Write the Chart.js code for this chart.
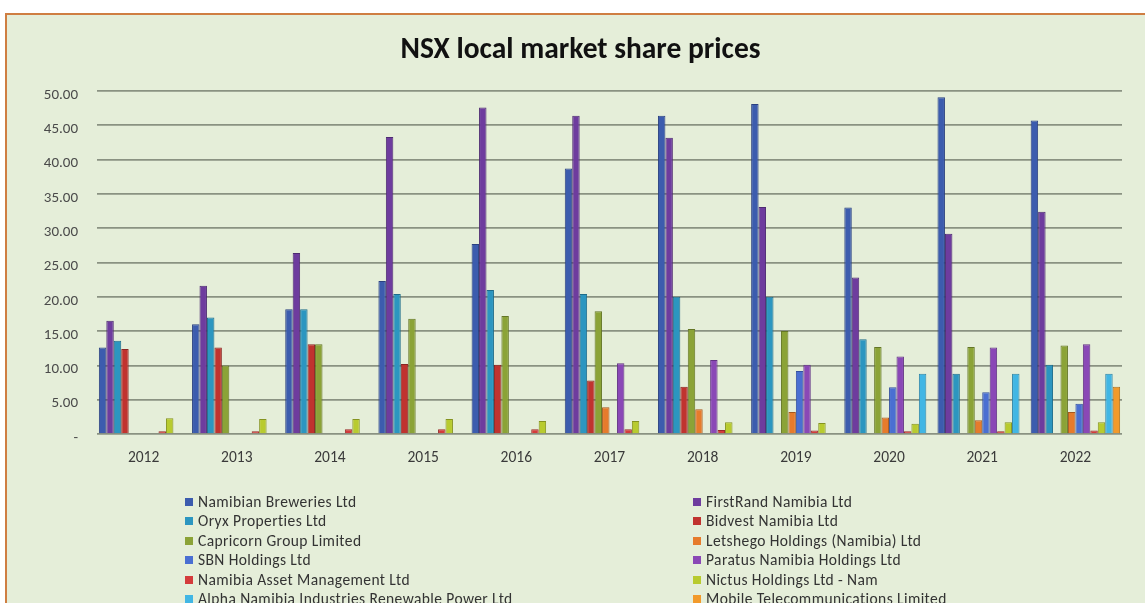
<!DOCTYPE html>
<html>
<head>
<meta charset="utf-8">
<script src="https://cdn.jsdelivr.net/npm/chart.js@4/dist/chart.umd.min.js"></script>
<style>
  html, body { margin: 0; padding: 0; background: #ffffff; width: 1145px; height: 603px; overflow: hidden; }
  #frame { position: absolute; left: 5px; top: 13px; width: 1140px; height: 592px;
           border-top: 2px solid #CF7E42; border-left: 2px solid #CF7E42; background: #E5EED9; }
  #wrap { position: absolute; left: 7px; top: 15px; width: 1138px; height: 475px; }
  #legend { position: absolute; left: 0; top: 0; width: 1145px; height: 603px; pointer-events: none;
            font-family: Carlito, Lato, sans-serif; font-size: 15.5px; letter-spacing: 0.4px; color: #333; }
  .li { position: absolute; white-space: nowrap; line-height: 16px; }
  .sw { display: inline-block; width: 8px; height: 8px; margin-right: 5px; vertical-align: 1px; }
</style>
</head>
<body>
<div id="frame"></div>
<div id="wrap"><canvas id="c"></canvas></div>
<div id="legend"></div>
<script>
const categories = ['2012','2013','2014','2015','2016','2017','2018','2019','2020','2021','2022'];
const yTickLabels = ['-','5.00','10.00','15.00','20.00','25.00','30.00','35.00','40.00','45.00','50.00'];

const namibianBreweries = [12.6, 16.0, 18.2, 22.3, 27.7, 38.7, 46.4, 48.1, 33.0, 49.1, 45.7];
const firstRand         = [16.5, 21.6, 26.4, 43.3, 47.6, 46.4, 43.2, 33.1, 22.8, 29.2, 32.4];
const oryxProperties    = [13.6, 17.0, 18.2, 20.4, 21.0, 20.4, 20.0, 20.0, 13.8, 8.8, 10.1];
const bidvest           = [12.4, 12.6, 13.1, 10.2, 10.1, 7.8, 6.9, 0, 0, 0, 0];
const capricorn         = [0, 10.0, 13.1, 16.8, 17.2, 17.9, 15.3, 15.0, 12.7, 12.7, 12.9];
const letshego          = [0, 0, 0, 0, 0, 3.9, 3.6, 3.2, 2.4, 2.0, 3.2];
const sbnHoldings       = [0, 0, 0, 0, 0, 0, 0, 9.2, 6.8, 6.1, 4.4];
const paratus           = [0, 0, 0, 0, 0, 10.3, 10.8, 10.1, 11.3, 12.6, 13.1];
const namAssetMgmt      = [0.4, 0.4, 0.7, 0.7, 0.7, 0.7, 0.6, 0.5, 0.4, 0.4, 0.5];
const nictus            = [2.3, 2.2, 2.2, 2.2, 1.9, 1.9, 1.7, 1.6, 1.5, 1.7, 1.7];
const alphaNamibia      = [0, 0, 0, 0, 0, 0, 0, 0, 8.8, 8.8, 8.8];
const mtc               = [0, 0, 0, 0, 0, 0, 0, 0, 0, 0, 6.9];

const seriesNames = [
  'Namibian Breweries Ltd', 'FirstRand Namibia Ltd',
  'Oryx Properties Ltd', 'Bidvest Namibia Ltd',
  'Capricorn Group Limited', 'Letshego Holdings (Namibia) Ltd',
  'SBN Holdings Ltd', 'Paratus Namibia Holdings Ltd',
  'Namibia Asset Management Ltd', 'Nictus Holdings Ltd - Nam',
  'Alpha Namibia Industries Renewable Power Ltd', 'Mobile Telecommunications Limited'
];
const seriesValues = [namibianBreweries, firstRand, oryxProperties, bidvest, capricorn, letshego,
                      sbnHoldings, paratus, namAssetMgmt, nictus, alphaNamibia, mtc];
const seriesColors = ['#3C5CAE', '#6E3C9E', '#2C96C0', '#C0332F', '#8BA337', '#E67B2C',
                      '#4A6FD2', '#8A48B6', '#D43B3B', '#B8CB2F', '#41B6E4', '#F29A2B'];
const seriesBorders = ['#2A4080', '#4E2A72', '#1E6C8A', '#8A2422', '#647626', '#A8581E',
                       '#3450A0', '#633484', '#982A2A', '#85931F', '#2E84A6', '#B0701E'];

const FONT = 'Carlito, Lato, sans-serif';

const datasets = seriesNames.map((n, i) => ({
  label: n,
  data: seriesValues[i],
  backgroundColor: seriesColors[i],
  borderColor: seriesBorders[i],
  borderWidth: 1,
  categoryPercentage: 0.96,
  barPercentage: 1.0
}));

const chart = new Chart(document.getElementById('c'), {
  type: 'bar',
  data: { labels: categories, datasets },
  options: {
    responsive: true,
    maintainAspectRatio: false,
    animation: false,
    layout: { padding: { left: 32, right: 23, top: 0, bottom: 0 } },
    plugins: {
      legend: { display: false },
      tooltip: { enabled: false },
      title: {
        display: true,
        text: 'NSX local market share prices',
        color: '#111',
        font: { family: FONT, size: 29.5, weight: 'bold' },
        padding: { top: 18, bottom: 22.6 }
      }
    },
    scales: {
      x: {
        grid: { display: false, drawTicks: false },
        border: { display: false },
        ticks: { color: '#3A3A3A', font: { family: FONT, size: 15.5 }, padding: 15 },
        afterFit: s => { s.height = 56; }
      },
      y: {
        min: 0, max: 50,
        grid: { color: '#8A9282', lineWidth: 1.7, drawTicks: false },
        border: { display: false },
        ticks: {
          stepSize: 5,
          color: '#4A4A4A',
          font: { family: FONT, size: 15 },
          padding: 19,
          labelOffset: 4,
          callback: (v) => yTickLabels[Math.round(v / 5)]
        },
        afterFit: s => { s.width = 58; }
      }
    }
  }
});

// HTML legend built from the chart's datasets, two columns, row-major
const leg = document.getElementById('legend');
chart.data.datasets.forEach((ds, i) => {
  const col = i % 2, row = Math.floor(i / 2);
  const d = document.createElement('div');
  d.className = 'li';
  d.style.left = (col === 0 ? 185 : 693) + 'px';
  d.style.top = (494 + row * 19.4) + 'px';
  const sw = document.createElement('span');
  sw.className = 'sw';
  sw.style.background = ds.backgroundColor;
  d.appendChild(sw);
  d.appendChild(document.createTextNode(ds.label));
  leg.appendChild(d);
});
</script>
</body>
</html>
